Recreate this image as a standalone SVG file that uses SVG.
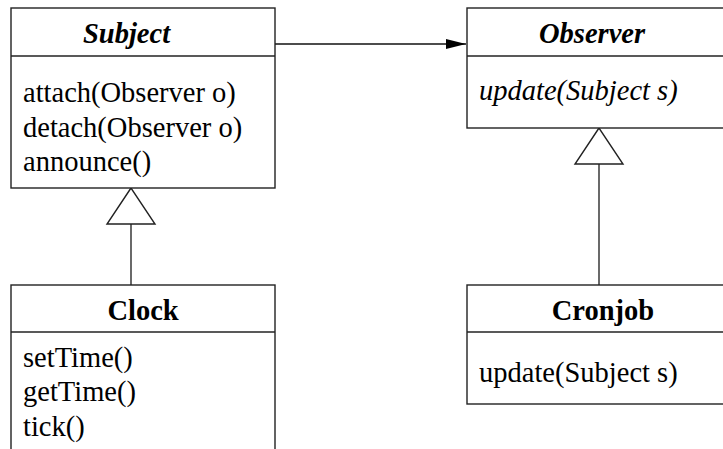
<svg xmlns="http://www.w3.org/2000/svg" width="723" height="449" viewBox="0 0 723 449">
<style>
.box{fill:#fff;stroke:#222;stroke-width:1.4}
.div{stroke:#222;stroke-width:1.4}
text{font-family:"Liberation Serif","Times New Roman",serif;font-size:28.5px;fill:#000}
.bi{font-weight:bold;font-style:italic}
.b{font-weight:bold}
.i{font-style:italic}
.conn{stroke:#444;stroke-width:1.6;fill:none}
.tri{fill:#fff;stroke:#222;stroke-width:1.4}
</style>
<defs>
<marker id="arr" markerWidth="20" markerHeight="10" refX="20" refY="5" orient="auto" markerUnits="userSpaceOnUse">
<path d="M0,0 L20,5 L0,10 Z" fill="#000"/>
</marker>
</defs>
<g id="connectors">
<line class="conn" x1="275" y1="44" x2="466" y2="44" marker-end="url(#arr)" style="stroke:#111"/>
<line class="conn" x1="131" y1="224" x2="131" y2="285"/>
<polygon class="tri" points="131,188 107,224 155,224"/>
<line class="conn" x1="599" y1="164" x2="599" y2="285"/>
<polygon class="tri" points="599,128 575,164 623,164"/>
</g>
<g id="subject">
<rect class="box" x="11" y="8" width="264" height="180"/>
<line class="div" x1="11" y1="56" x2="275" y2="56"/>
<text class="bi" x="83" y="43">Subject</text>
<text x="23" y="102">attach(Observer o)</text>
<text x="23" y="137">detach(Observer o)</text>
<text x="23" y="171">announce()</text>
</g>
<g id="observer">
<rect class="box" x="467" y="8" width="270" height="120"/>
<line class="div" x1="467" y1="56" x2="737" y2="56"/>
<text class="bi" x="539" y="43">Observer</text>
<text class="i" x="479" y="100">update(Subject s)</text>
</g>
<g id="clock">
<rect class="box" x="11" y="285" width="264" height="180"/>
<line class="div" x1="11" y1="332" x2="275" y2="332"/>
<text class="b" x="143" y="320" text-anchor="middle">Clock</text>
<text x="23" y="367">setTime()</text>
<text x="23" y="401">getTime()</text>
<text x="23" y="436">tick()</text>
</g>
<g id="cronjob">
<rect class="box" x="467" y="285" width="270" height="119"/>
<line class="div" x1="467" y1="332" x2="737" y2="332"/>
<text class="b" x="603" y="320" text-anchor="middle">Cronjob</text>
<text x="479" y="382">update(Subject s)</text>
</g>
</svg>
